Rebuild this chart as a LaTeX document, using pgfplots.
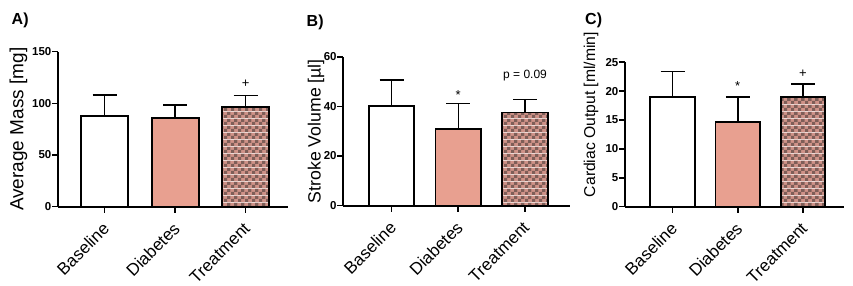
\documentclass[border=0pt]{standalone}
\usepackage{fontspec}
\setmainfont{Liberation Sans}
\usepackage{pgfplots}
\pgfplotsset{compat=1.18}
\usetikzlibrary{patterns.meta}

\definecolor{salmon}{HTML}{E8A090}
\definecolor{chkA}{HTML}{CF9288}
\definecolor{chkB}{HTML}{7E5E58}

\pgfdeclarepattern{name=mycheck, type=colored,
  bottom left={\pgfpointorigin}, top right={\pgfpoint{7pt}{7pt}},
  tile size={\pgfpoint{7pt}{7pt}},
  code={\pgfsetfillcolor{chkA}%
        \pgfpathrectangle{\pgfpoint{-0.1pt}{-0.1pt}}{\pgfpoint{7.2pt}{7.2pt}}%
        \pgfusepath{fill}%
        \pgfsetfillcolor{chkB}%
        \pgfpathrectangle{\pgfpointorigin}{\pgfpoint{3.5pt}{3.5pt}}%
        \pgfpathrectangle{\pgfpoint{3.5pt}{3.5pt}}{\pgfpoint{3.5pt}{3.5pt}}%
        \pgfusepath{fill}}}

\newcommand{\ytl}{\bfseries\fontsize{11.5}{13}\selectfont}

\pgfplotsset{panel/.style={
  scale only axis, axis lines=left, axis line style={line width=2pt, -},
  ymin=0, xtick={0,1,2}, xticklabels={Baseline,Diabetes,Treatment},
  xticklabel style={xshift=-3pt, yshift=-1pt, rotate=45, anchor=north east, font=\fontsize{17}{17}\selectfont, inner sep=1pt},
  xticklabel shift=6pt,
  yticklabel={{\ytl\pgfmathprintnumber[assume math mode=true]{\tick}}},
  yticklabel style={inner sep=0.5pt},
  tick style={line width=1.6pt, black},
  major tick length=6pt, tick align=outside,
  ybar, bar shift=0pt, clip=false,
  every axis plot/.append style={draw=black, line width=1.8pt},
  error bars/y dir=plus, error bars/y explicit,
  error bars/error bar style={line width=1.5pt, black},
  error bars/error mark options={rotate=90, line width=1.5pt, mark size=12pt, black},
}}

\begin{document}
\begin{tikzpicture}
\useasboundingbox (0,0) rectangle (853pt,286pt);

\node[anchor=base west, font=\bfseries\fontsize{16}{16}\selectfont, inner sep=0pt] at (11.5pt,261pt) {A)};
\node[anchor=base west, font=\bfseries\fontsize{16}{16}\selectfont, inner sep=0pt] at (306.5pt,259.5pt) {B)};
\node[anchor=base west, font=\bfseries\fontsize{16}{16}\selectfont, inner sep=0pt] at (585pt,261pt) {C)};

% Panel A
\begin{axis}[panel, at={(58pt,79.3pt)}, anchor=south west,
  width=230pt, height=155pt, xmin=-0.66, xmax=2.60, ymax=150,
  ytick={0,50,100,150}, bar width=47pt,
  ylabel={Average Mass [mg]},
  ylabel style={at={(axis description cs:-0.172,0.5)}, anchor=center, font=\fontsize{19}{19}\selectfont}]
\addplot[fill=white] coordinates {(0,87.8) +- (0,20.3)};
\addplot[fill=salmon] coordinates {(1,85.5) +- (0,12.9)};
\addplot[pattern={mycheck}] coordinates {(2,96.8) +- (0,10.6)};
\node[font=\fontsize{13}{13}\selectfont] at (axis cs:2,119) {+};
\end{axis}

% Panel B
\begin{axis}[panel, at={(343.3pt,80.3pt)}, anchor=south west,
  width=226.7pt, height=149pt, xmin=-0.722, xmax=2.674, ymax=60,
  ytick={0,20,40,60}, bar width=45.5pt,
  ylabel={Stroke Volume [µl]},
  ylabel style={at={(axis description cs:-0.12,0.5)}, anchor=center, font=\fontsize{17.7}{17.7}\selectfont}]
\addplot[fill=white] coordinates {(0,40.1) +- (0,10.5)};
\addplot[fill=salmon] coordinates {(1,30.9) +- (0,10.3)};
\addplot[pattern={mycheck}] coordinates {(2,37.5) +- (0,5.3)};
\node[font=\fontsize{13}{13}\selectfont] at (axis cs:1,44.6) {*};
\node[font=\fontsize{12}{12}\selectfont] at (axis cs:2,52.6) {p = 0.09};
\end{axis}

% Panel C
\begin{axis}[panel, at={(625pt,79.3pt)}, anchor=south west,
  width=219pt, height=144.4pt, xmin=-0.728, xmax=2.628, ymax=25,
  ytick={0,5,10,15,20,25}, bar width=44.5pt,
  ylabel={Cardiac Output [ml/min]},
  ylabel style={at={(axis description cs:-0.155,0.638)}, anchor=center, font=\fontsize{15.7}{15.7}\selectfont}]
\addplot[fill=white] coordinates {(0,19.0) +- (0,4.4)};
\addplot[fill=salmon] coordinates {(1,14.6) +- (0,4.4)};
\addplot[pattern={mycheck}] coordinates {(2,19.0) +- (0,2.2)};
\node[font=\fontsize{13}{13}\selectfont] at (axis cs:1,20.9) {*};
\node[font=\fontsize{13}{13}\selectfont] at (axis cs:2,23.0) {+};
\end{axis}
\end{tikzpicture}
\end{document}
